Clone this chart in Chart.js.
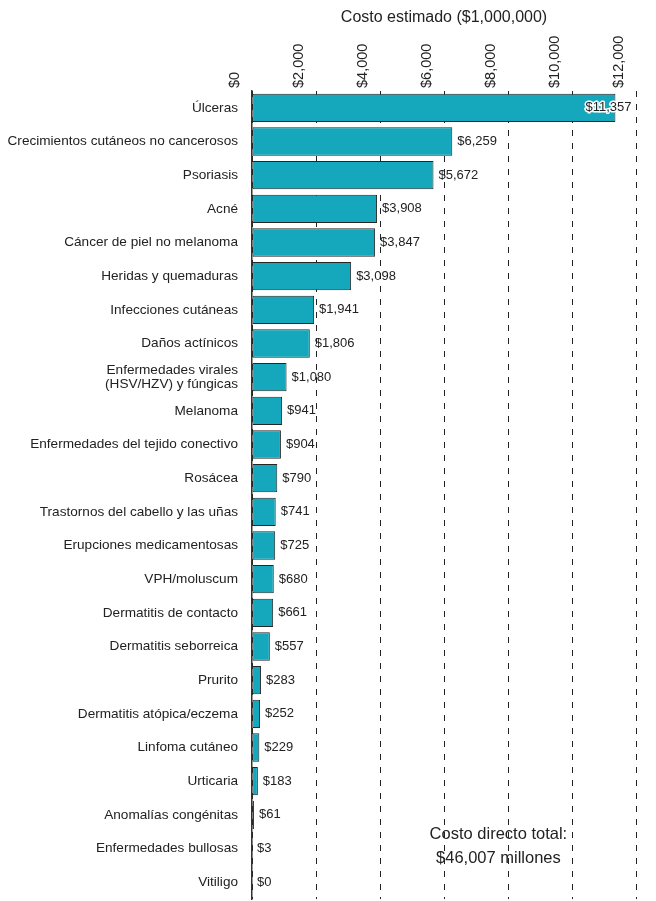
<!DOCTYPE html>
<html>
<head>
<meta charset="utf-8">
<script src="https://cdn.jsdelivr.net/npm/chart.js@4"></script>
<style>
  body { margin: 0; background: #fff; }
  #wrap { width: 656px; height: 901px; position: relative; }
</style>
</head>
<body>
<div id="wrap"><canvas id="myChart"></canvas></div>
<script>
const categorias = [
  'Úlceras', 'Crecimientos cutáneos no cancerosos', 'Psoriasis', 'Acné',
  'Cáncer de piel no melanoma', 'Heridas y quemaduras', 'Infecciones cutáneas',
  'Daños actínicos', ['Enfermedades virales', '(HSV/HZV) y fúngicas'], 'Melanoma',
  'Enfermedades del tejido conectivo', 'Rosácea', 'Trastornos del cabello y las uñas',
  'Erupciones medicamentosas', 'VPH/moluscum', 'Dermatitis de contacto',
  'Dermatitis seborreica', 'Prurito', 'Dermatitis atópica/eczema', 'Linfoma cutáneo',
  'Urticaria', 'Anomalías congénitas', 'Enfermedades bullosas', 'Vitiligo'
];
const costos = [11357, 6259, 5672, 3908, 3847, 3098, 1941, 1806, 1080, 941, 904, 790,
  741, 725, 680, 661, 557, 283, 252, 229, 183, 61, 3, 0];
const ticksX = [0, 2000, 4000, 6000, 8000, 10000, 12000];
const tituloX = 'Costo estimado ($1,000,000)';
const nota = ['Costo directo total:', '$46,007 millones'];

const fuente = '"Liberation Sans", Arial, sans-serif';
const formato = v => '$' + v.toLocaleString('en-US');

// etiquetas de valor y nota del total
const etiquetas = {
  id: 'etiquetas',
  afterDatasetsDraw(chart) {
    const ctx = chart.ctx;
    const meta = chart.getDatasetMeta(0);
    ctx.save();
    ctx.font = '13px ' + fuente;
    ctx.textBaseline = 'middle';
    ctx.textAlign = 'left';
    meta.data.forEach((bar, i) => {
      const texto = formato(costos[i]);
      const w = ctx.measureText(texto).width;
      let x = bar.x + 5;
      if (x + w > chart.width - 2) {
        x = bar.x - 30;
        ctx.lineWidth = 3;
        ctx.strokeStyle = '#fff';
        ctx.lineJoin = 'round';
        ctx.strokeText(texto, x, bar.y);
      }
      ctx.fillStyle = '#222';
      ctx.fillText(texto, x, bar.y);
    });
    const xs = chart.scales.x;
    const ys = chart.scales.y;
    const cx = xs.getPixelForValue(7700);
    const cy = (ys.getPixelForValue(21) + ys.getPixelForValue(22)) / 2 + 3;
    ctx.font = '16.5px ' + fuente;
    ctx.textAlign = 'center';
    ctx.fillText(nota[0], cx, cy);
    ctx.fillText(nota[1], cx, cy + 24);
    ctx.restore();
  }
};

new Chart(document.getElementById('myChart'), {
  type: 'bar',
  data: {
    labels: categorias,
    datasets: [{
      data: costos,
      backgroundColor: '#15A8BC',
      borderColor: '#262626',
      borderWidth: 1,
      borderSkipped: false,
      barPercentage: 0.84,
      categoryPercentage: 1
    }]
  },
  options: {
    indexAxis: 'y',
    responsive: true,
    maintainAspectRatio: false,
    animation: false,
    layout: { padding: { left: 0, right: 20, top: 0, bottom: 2 } },
    plugins: { legend: { display: false }, tooltip: { enabled: false } },
    scales: {
      x: {
        position: 'top',
        min: 0,
        max: 12000,
        afterBuildTicks: axis => { axis.ticks = ticksX.map(v => ({ value: v })); },
        afterFit: axis => { axis.height = 91; },
        ticks: {
          minRotation: 90,
          maxRotation: 90,
          padding: 3,
          color: '#222',
          font: { family: fuente, size: 14.5 },
          callback: v => formato(v)
        },
        grid: { color: '#222', lineWidth: 1, drawTicks: false },
        border: { display: false, dash: [6, 7] },
        title: {
          display: true,
          text: tituloX,
          color: '#222',
          font: { family: fuente, size: 16 },
          padding: { top: 8, bottom: 0 }
        }
      },
      y: {
        afterFit: axis => {
          axis.width = 252;
          axis.paddingTop = 0;
          axis.paddingBottom = 0;
        },
        ticks: {
          color: '#222',
          padding: 14,
          font: { family: fuente, size: 13.6, lineHeight: 0.97 }
        },
        grid: { display: false, drawTicks: false },
        border: { display: true, color: '#333', width: 1.5 }
      }
    }
  },
  plugins: [etiquetas]
});
</script>
</body>
</html>
